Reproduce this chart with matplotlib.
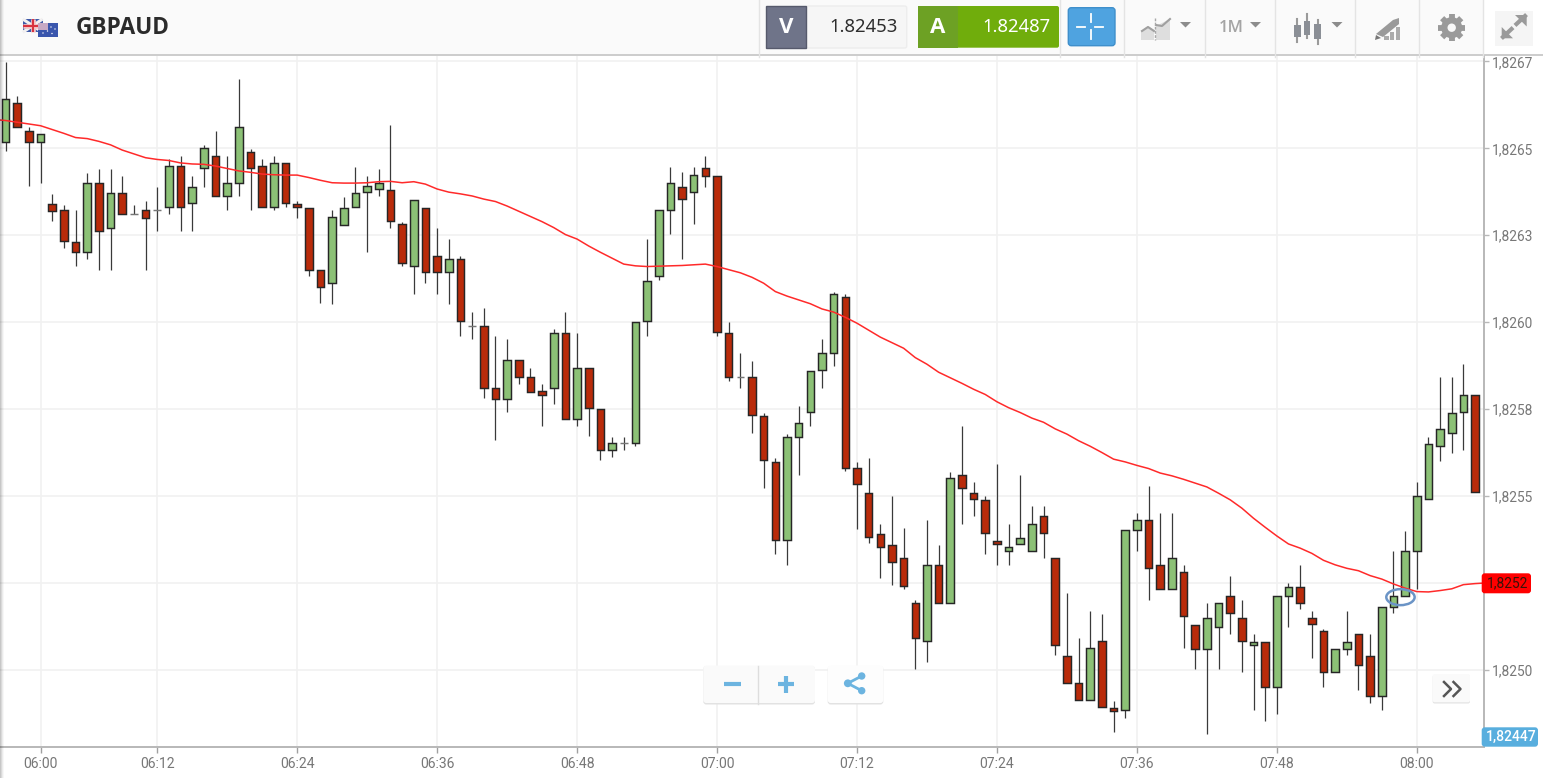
import numpy as np
import matplotlib
matplotlib.use("Agg")
import matplotlib.pyplot as plt
from matplotlib.patches import Rectangle, FancyBboxPatch, Ellipse, Polygon, Circle

# GBPAUD one minute candles, prices
opens = [
    1.826519, 1.826631, 1.826551, 1.826519, 1.826340, 1.826323, 1.826231, 1.826202, 1.826401, 1.826271,
    1.826372, 1.826312, 1.826323, 1.826322, 1.826332, 1.826449, 1.826342, 1.826442, 1.826479, 1.826362,
    1.826401, 1.826490, 1.826449, 1.826332, 1.826459, 1.826340, 1.826329, 1.826151, 1.826113, 1.826280,
    1.826332, 1.826374, 1.826383, 1.826380, 1.826281, 1.826162, 1.826329, 1.826191, 1.826144, 1.826181,
    1.825990, 1.825989, 1.825811, 1.825780, 1.825890, 1.825842, 1.825802, 1.825812, 1.825969, 1.825722,
    1.825869, 1.825750, 1.825633, 1.825652, 1.825653, 1.826003, 1.826133, 1.826322, 1.826390, 1.826374,
    1.826442, 1.826421, 1.825969, 1.825842, 1.825842, 1.825729, 1.825599, 1.825373, 1.825671, 1.825743,
    1.825863, 1.825911, 1.826072, 1.825581, 1.825510, 1.825390, 1.825359, 1.825322, 1.825191, 1.825082,
    1.825301, 1.825191, 1.825561, 1.825510, 1.825489, 1.825370, 1.825342, 1.825362, 1.825342, 1.825442,
    1.825322, 1.825041, 1.824961, 1.824914, 1.825082, 1.824891, 1.824883, 1.825402, 1.825431, 1.825301,
    1.825232, 1.825281, 1.825129, 1.825061, 1.825122, 1.825212, 1.825150, 1.825070, 1.825081, 1.824951,
    1.825211, 1.825239, 1.825150, 1.825112, 1.824993, 1.825061, 1.825102, 1.825041, 1.824924, 1.825181,
    1.825211, 1.825342, 1.825492, 1.825643, 1.825681, 1.825743, 1.825791,
]
closes = [
    1.826641, 1.826562, 1.826519, 1.826541, 1.826321, 1.826234, 1.826202, 1.826401, 1.826262, 1.826372,
    1.826311, 1.826312, 1.826301, 1.826322, 1.826449, 1.826332, 1.826390, 1.826501, 1.826363, 1.826401,
    1.826562, 1.826442, 1.826332, 1.826459, 1.826342, 1.826331, 1.826151, 1.826102, 1.826302, 1.826329,
    1.826371, 1.826391, 1.826401, 1.826291, 1.826170, 1.826350, 1.826144, 1.826144, 1.826181, 1.826004,
    1.825990, 1.825812, 1.825780, 1.825890, 1.825842, 1.825800, 1.825791, 1.825969, 1.825722, 1.825869,
    1.825753, 1.825633, 1.825652, 1.825652, 1.826000, 1.826119, 1.826322, 1.826401, 1.826353, 1.826422,
    1.826421, 1.825972, 1.825842, 1.825842, 1.825732, 1.825603, 1.825373, 1.825671, 1.825711, 1.825860,
    1.825911, 1.826082, 1.825581, 1.825535, 1.825383, 1.825352, 1.825311, 1.825242, 1.825092, 1.825301,
    1.825191, 1.825551, 1.825524, 1.825492, 1.825393, 1.825362, 1.825352, 1.825380, 1.825420, 1.825393,
    1.825071, 1.824962, 1.824914, 1.825062, 1.824894, 1.824882, 1.825401, 1.825431, 1.825294, 1.825232,
    1.825322, 1.825154, 1.825061, 1.825150, 1.825191, 1.825163, 1.825082, 1.825081, 1.824951, 1.825212,
    1.825238, 1.825191, 1.825133, 1.824993, 1.825061, 1.825081, 1.825013, 1.824924, 1.825181, 1.825211,
    1.825342, 1.825500, 1.825650, 1.825692, 1.825740, 1.825791, 1.825512,
]
highs = [
    1.826749, 1.826651, 1.826562, 1.826541, 1.826369, 1.826337, 1.826323, 1.826430, 1.826441, 1.826441,
    1.826421, 1.826338, 1.826349, 1.826390, 1.826470, 1.826478, 1.826421, 1.826510, 1.826551, 1.826478,
    1.826698, 1.826499, 1.826470, 1.826478, 1.826459, 1.826348, 1.826329, 1.826151, 1.826322, 1.826359,
    1.826447, 1.826421, 1.826441, 1.826567, 1.826289, 1.826350, 1.826329, 1.826270, 1.826239, 1.826191,
    1.826030, 1.826040, 1.825961, 1.825951, 1.825890, 1.825869, 1.825821, 1.825980, 1.826030, 1.825968,
    1.825869, 1.825750, 1.825670, 1.825670, 1.826000, 1.826239, 1.826322, 1.826447, 1.826431, 1.826447,
    1.826478, 1.826421, 1.826000, 1.825911, 1.825889, 1.825738, 1.825609, 1.825679, 1.825759, 1.825860,
    1.825951, 1.826088, 1.826080, 1.825598, 1.825608, 1.825419, 1.825499, 1.825409, 1.825201, 1.825430,
    1.825358, 1.825570, 1.825701, 1.825540, 1.825499, 1.825591, 1.825419, 1.825560, 1.825471, 1.825471,
    1.825322, 1.825222, 1.825091, 1.825170, 1.825160, 1.824910, 1.825401, 1.825451, 1.825530, 1.825451,
    1.825451, 1.825301, 1.825129, 1.825191, 1.825191, 1.825270, 1.825201, 1.825102, 1.825081, 1.825212,
    1.825249, 1.825301, 1.825170, 1.825117, 1.825061, 1.825170, 1.825102, 1.825102, 1.825181, 1.825342,
    1.825399, 1.825539, 1.825671, 1.825842, 1.825842, 1.825879, 1.825791,
]
lows = [
    1.826493, 1.826562, 1.826392, 1.826401, 1.826291, 1.826214, 1.826162, 1.826182, 1.826150, 1.826150,
    1.826311, 1.826312, 1.826151, 1.826263, 1.826311, 1.826263, 1.826263, 1.826390, 1.826363, 1.826322,
    1.826363, 1.826322, 1.826332, 1.826322, 1.826332, 1.826301, 1.826133, 1.826055, 1.826052, 1.826280,
    1.826332, 1.826202, 1.826363, 1.826270, 1.826161, 1.826082, 1.826112, 1.826082, 1.826052, 1.825961,
    1.825952, 1.825781, 1.825660, 1.825743, 1.825821, 1.825800, 1.825702, 1.825764, 1.825722, 1.825702,
    1.825672, 1.825603, 1.825612, 1.825633, 1.825643, 1.825961, 1.826122, 1.826254, 1.826181, 1.826281,
    1.826390, 1.825961, 1.825832, 1.825812, 1.825681, 1.825524, 1.825332, 1.825302, 1.825561, 1.825702,
    1.825812, 1.825873, 1.825571, 1.825404, 1.825364, 1.825263, 1.825243, 1.825232, 1.825002, 1.825023,
    1.825191, 1.825191, 1.825420, 1.825442, 1.825332, 1.825302, 1.825301, 1.825362, 1.825342, 1.825323,
    1.825043, 1.824962, 1.824914, 1.824914, 1.824894, 1.824821, 1.824862, 1.825342, 1.825202, 1.825232,
    1.825232, 1.825062, 1.825002, 1.824815, 1.825002, 1.825102, 1.824993, 1.824883, 1.824853, 1.824873,
    1.825122, 1.825174, 1.825034, 1.824951, 1.824993, 1.825043, 1.824942, 1.824904, 1.824883, 1.825163,
    1.825211, 1.825232, 1.825492, 1.825602, 1.825623, 1.825633, 1.825512,
]

# moving average, one value before the first candle and one after the last
moving_avg = [
    1.826583, 1.826580, 1.826575, 1.826570, 1.826565, 1.826554, 1.826543, 1.826531, 1.826528, 1.826520,
    1.826510, 1.826495, 1.826484, 1.826473, 1.826468, 1.826465, 1.826458, 1.826455, 1.826454, 1.826449,
    1.826442, 1.826435, 1.826431, 1.826426, 1.826424, 1.826423, 1.826423, 1.826416, 1.826408, 1.826401,
    1.826400, 1.826400, 1.826401, 1.826404, 1.826405, 1.826401, 1.826404, 1.826397, 1.826383, 1.826374,
    1.826369, 1.826363, 1.826354, 1.826347, 1.826334, 1.826319, 1.826304, 1.826289, 1.826272, 1.826252,
    1.826239, 1.826219, 1.826201, 1.826184, 1.826167, 1.826162, 1.826160, 1.826161, 1.826162, 1.826163,
    1.826165, 1.826167, 1.826160, 1.826151, 1.826142, 1.826129, 1.826112, 1.826088, 1.826075, 1.826064,
    1.826053, 1.826038, 1.826029, 1.826014, 1.825997, 1.825977, 1.825957, 1.825941, 1.825925, 1.825898,
    1.825879, 1.825856, 1.825840, 1.825824, 1.825807, 1.825792, 1.825771, 1.825754, 1.825740, 1.825724,
    1.825712, 1.825693, 1.825678, 1.825659, 1.825643, 1.825625, 1.825606, 1.825598, 1.825588, 1.825579,
    1.825566, 1.825558, 1.825548, 1.825537, 1.825526, 1.825508, 1.825489, 1.825465, 1.825436, 1.825410,
    1.825385, 1.825362, 1.825350, 1.825335, 1.825315, 1.825302, 1.825292, 1.825285, 1.825271, 1.825261,
    1.825247, 1.825235, 1.825225, 1.825224, 1.825228, 1.825233, 1.825245, 1.825248, 1.825250,
]

price_ticks = [1.82500, 1.82525, 1.82550, 1.82575, 1.82600, 1.82625, 1.82650, 1.82675]
price_labels = ["1,8250", "", "1,8255", "1,8258", "1,8260", "1,8263", "1,8265", "1,8267"]

# the feed has two minutes missing after 06:00, so ticks sit on candle numbers
tick_candles = [3, 13, 25, 37, 49, 61, 73, 85, 97, 109, 121]
tick_labels = ["06:00", "06:12", "06:24", "06:36", "06:48", "07:00", "07:12", "07:24", "07:36", "07:48", "08:00"]

last_ma_label = "1,8252"
crosshair_label = "1,82447"
bid_price = "1.82453"
ask_price = "1.82487"

UP_COLOR = "#8cc176"
DOWN_COLOR = "#b92b0a"
AXIS_COLOR = "#b8b8b8"
ICON_COLOR = "#9a9a9a"
BLUE = "#6cb4e0"

fig = plt.figure(figsize=(15.43, 7.78), dpi=100, facecolor="white")
ax = fig.add_axes([0, 1 - 747 / 778, 1483.5 / 1543, (747 - 55.5) / 778])

x = np.arange(len(closes))
o = np.array(opens)
c = np.array(closes)
body_bottom = np.minimum(o, c)
body_height = np.abs(c - o)
colors = [UP_COLOR if b >= a else DOWN_COLOR for a, b in zip(opens, closes)]
edges = ["#777777" if a == b else "#262626" for a, b in zip(opens, closes)]

ax.vlines(x, lows, highs, color="#3a3a3a", linewidth=0.9, zorder=2)
ax.bar(x, body_height, bottom=body_bottom, width=0.65, color=colors, edgecolor=edges, linewidth=1.05, zorder=3)
ax.plot(np.arange(-1, len(closes) + 1), moving_avg, color="#ff2a2a", linewidth=1.1, zorder=4)

# small circle around the signal candle
ax.add_patch(Ellipse((119.6, 1.825209), 2.43, 0.000046, fill=False, edgecolor="#6b94c6", linewidth=1.8, zorder=5))

ax.set_xlim(-0.48, 126.72)
ax.set_ylim(1.824778, 1.826767)
ax.set_xticks(tick_candles)
ax.set_xticklabels(tick_labels)
ax.set_yticks(price_ticks)
ax.set_yticklabels(price_labels)
ax.yaxis.tick_right()
ax.grid(True, color="#f1f1f1", linewidth=1.2, zorder=0)
ax.set_axisbelow(True)
for side in ["top", "left"]:
    ax.spines[side].set_visible(False)
for side in ["right", "bottom"]:
    ax.spines[side].set_color(AXIS_COLOR)
    ax.spines[side].set_linewidth(1.4)
ax.tick_params(axis="x", length=4, width=1, color="#a0a0a0", labelcolor="#777777", labelsize=10.1, pad=3.5)
ax.tick_params(axis="y", length=3.5, width=1, color=AXIS_COLOR, labelcolor="#777777", labelsize=9.9, pad=2.2)
for label in ax.get_xticklabels() + ax.get_yticklabels():
    label.set_fontfamily("Roboto")

# overlay in pixel coordinates for the platform's buttons and header
ui = fig.add_axes([0, 0, 1, 1], zorder=10)
ui.set_xlim(0, 1543)
ui.set_ylim(778, 0)
ui.axis("off")
ui.patch.set_alpha(0)


def box(x0, y0, x1, y1, color, edge="none", radius=0.0, lw=1.0, z=1):
    if radius > 0:
        patch = FancyBboxPatch((x0 + radius, y0 + radius), x1 - x0 - 2 * radius, y1 - y0 - 2 * radius,
                               boxstyle=f"round,pad={radius},rounding_size={radius}",
                               facecolor=color, edgecolor=edge, linewidth=lw, zorder=z)
    else:
        patch = Rectangle((x0, y0), x1 - x0, y1 - y0, facecolor=color, edgecolor=edge, linewidth=lw, zorder=z)
    ui.add_patch(patch)


def triangle(cx, color="#8c8c8c"):
    ui.add_patch(Polygon([(cx - 5.5, 22), (cx + 5.5, 22), (cx, 27.5)], facecolor=color, edgecolor="none", zorder=3))


# header strip
box(0, 0, 1483.5, 55, "#fafafa")
box(1483.5, 0, 1543, 55, "#ffffff")
ui.plot([0, 1543], [55.3, 55.3], color="#c4c4c4", linewidth=1.2, zorder=2)
for sep in [759, 1059.5, 1123.5, 1204.5, 1274.7, 1355.3, 1419.3, 1483.3]:
    ui.plot([sep, sep], [0, 57], color="#e4e4e4", linewidth=1, zorder=2)

# shadow down the left edge
for i, alpha in enumerate([0.22, 0.15, 0.08, 0.03]):
    ui.add_patch(Rectangle((i, 0), 1, 778, facecolor="black", edgecolor="none", alpha=alpha, zorder=2))

# flags
box(22.7, 19, 42.7, 32.3, "#3f5aa8", z=3)
for a, b, col, lw in [((22.7, 19), (42.7, 32.3), "#f2f0f0", 2.2), ((22.7, 32.3), (42.7, 19), "#f2f0f0", 2.2),
                      ((22.7, 25.6), (42.7, 25.6), "#f4c8c8", 3.4), ((32.7, 19), (32.7, 32.3), "#f4c8c8", 3.4),
                      ((22.7, 25.6), (42.7, 25.6), "#d9333f", 1.5), ((32.7, 19), (32.7, 32.3), "#d9333f", 1.5)]:
    ui.plot([a[0], b[0]], [a[1], b[1]], color=col, linewidth=lw, zorder=3, solid_capstyle="butt")
box(38.3, 23.3, 58.3, 36.7, "#3a56ad", z=4)
box(38.3, 23.3, 47.5, 29.5, "#c7a9c4", z=4)
for sx, sy in [(43, 33), (51, 27), (55, 29), (52, 33.5), (47.5, 31)]:
    ui.add_patch(Circle((sx, sy), 0.7, facecolor="white", edgecolor="none", zorder=5))

ui.text(75.5, 27.5, "GBPAUD", family="Open Sans", fontsize=16.3, fontweight="bold", color="#2b2b2b", va="center", ha="left", zorder=3)

# bid and ask boxes
box(806, 6, 906.7, 48, "#f6f6f6", edge="#ededed", radius=2, z=3)
box(766, 6, 806, 48, "#6f7489", edge="#565a6c", z=4)
ui.text(786, 27, "V", family="Open Sans", fontsize=16, fontweight="bold", color="white", ha="center", va="center", zorder=5)
ui.text(898, 26.5, bid_price, family="Noto Sans", fontsize=13.3, color="#2e2e2e", ha="right", va="center", zorder=5)
box(918.3, 6, 1059, 47.7, "#70ad0c", radius=2, z=3)
box(918.3, 6, 958, 47.7, "#6da124", z=4)
ui.text(938, 27.5, "A", family="Open Sans", fontsize=16, fontweight="bold", color="white", ha="center", va="center", zorder=5)
ui.text(1050, 26.5, ask_price, family="Noto Sans", fontsize=13.3, fontweight="medium", color="white", ha="right", va="center", zorder=5)

# crosshair button
box(1068.3, 7.7, 1115, 45.7, "#4fa3e0", edge="#3f8fcb", radius=3, z=3)
for xs, ys in [((1076.7, 1085), (26.7, 26.7)), ((1095, 1103.3), (26.7, 26.7)),
               ((1091, 1091), (14, 21.7)), ((1091, 1091), (30, 39.3))]:
    ui.plot(xs, ys, color="white", linewidth=1.3, zorder=4)

# chart type icon
ui.add_patch(Polygon([(1141, 40), (1141, 31), (1148, 26), (1154, 30), (1154, 40)], facecolor="#dedede", edgecolor="none", zorder=3))
ui.add_patch(Polygon([(1156, 40), (1156, 26), (1170, 19), (1170, 40)], facecolor="#dedede", edgecolor="none", zorder=3))
ui.plot([1142, 1148, 1154], [31, 27, 31], color="#a0a0a0", linewidth=1.5, zorder=4)
ui.plot([1156, 1162, 1170], [25, 26, 19], color="#a0a0a0", linewidth=1.5, zorder=4)
ui.plot([1155, 1155], [18, 40], color="#a8a8a8", linewidth=1, linestyle=(0, (2, 1)), zorder=4)
triangle(1185.5)

# period
ui.text(1231.5, 27.5, "1M", family="Open Sans", fontsize=12, fontweight="semibold", color="#a4a4a4", ha="center", va="center", zorder=3)
triangle(1255.5)

# candle icon
for cx, w0, w1, b0, b1 in [(1297.3, 18.5, 42, 25, 37), (1307, 13.5, 38, 21, 35), (1317.7, 19.5, 43.5, 24, 39)]:
    ui.plot([cx, cx], [w0, w1], color=ICON_COLOR, linewidth=1.5, zorder=3)
    box(cx - 3.3, b0, cx + 3.3, b1, "#8b8f96", z=4)
triangle(1337)

# drawing tool icon
ui.add_patch(Polygon([(1376, 34), (1393, 20), (1399, 18), (1399, 24), (1383, 37)], facecolor=ICON_COLOR, edgecolor="none", zorder=3))
ui.add_patch(Polygon([(1375, 40), (1376, 35), (1381, 38)], facecolor="#777777", edgecolor="none", zorder=3))
for bx, by in [(1384, 36), (1389.5, 32), (1395.5, 27)]:
    box(bx, by, bx + 4.5, 40, "#ababab", z=3)

# settings gear
gear_angles = np.deg2rad(np.arange(0, 360, 45))
for ang in gear_angles:
    ui.plot([1451.7, 1451.7 + 13.5 * np.cos(ang)], [27.7, 27.7 + 13.5 * np.sin(ang)], color=ICON_COLOR, linewidth=4.2, zorder=3, solid_capstyle="butt")
ui.add_patch(Circle((1451.7, 27.7), 10.5, facecolor=ICON_COLOR, edgecolor="none", zorder=3))
ui.add_patch(Circle((1451.7, 27.7), 4.2, facecolor="#f8f8f8", edgecolor="none", zorder=4))

# fullscreen icon, two arrows with a gap between them
box(1495, 10.7, 1533.3, 45.7, "#f5f5f5", z=3)
ui.plot([1503, 1511.5], [37, 29], color=ICON_COLOR, linewidth=3, zorder=4)
ui.plot([1516.5, 1525], [24, 16], color=ICON_COLOR, linewidth=3, zorder=4)
ui.add_patch(Polygon([(1501.7, 38.3), (1501.7, 27), (1513, 38.3)], facecolor=ICON_COLOR, edgecolor="none", zorder=4))
ui.add_patch(Polygon([(1526.7, 15), (1515, 15), (1526.7, 26.5)], facecolor=ICON_COLOR, edgecolor="none", zorder=4))

# zoom buttons
box(703.3, 666, 815, 704.5, "#e2e2e2", radius=3, z=3)
box(703.3, 665.5, 815, 703, "#fafafa", radius=3, z=3)
ui.plot([758.3, 758.3], [666, 704], color="#dddddd", linewidth=1, zorder=4)
ui.plot([724, 740.7], [684, 684], color=BLUE, linewidth=3, zorder=4, solid_capstyle="butt")
ui.plot([777.5, 794], [684, 684], color=BLUE, linewidth=3, zorder=4, solid_capstyle="butt")
ui.plot([785.7, 785.7], [676, 692.5], color=BLUE, linewidth=3, zorder=4, solid_capstyle="butt")

# share button
box(827.7, 666, 883.3, 704.5, "#e2e2e2", radius=3, z=3)
box(827.7, 665.5, 883.3, 703, "#fdfdfd", radius=3, z=3)
for px, py, r in [(861.7, 676, 3.7), (861.7, 690.7, 3.7), (847.8, 683.3, 3.9)]:
    ui.add_patch(Circle((px, py), r, facecolor=BLUE, edgecolor="none", zorder=4))
ui.plot([861.7, 847.8, 861.7], [676, 683.3, 690.7], color=BLUE, linewidth=2, zorder=4)

# scroll to latest button
box(1432.7, 675, 1470, 703.5, "#e2e2e2", radius=2, z=3)
box(1432.7, 674, 1470, 702.3, "#fafafa", radius=2, z=3)
ui.plot([1444, 1451, 1444], [682, 689, 696], color="#555555", linewidth=1.8, zorder=4)
ui.plot([1453.5, 1460.5, 1453.5], [682, 689, 696], color="#555555", linewidth=1.8, zorder=4)

# value badges on the price scale
box(1481.7, 573.3, 1531, 593.3, "#ff0000", radius=3, z=5)
ui.text(1507.5, 583.5, last_ma_label, family="Roboto", fontsize=9.9, color="#3a1208", ha="center", va="center", zorder=6)
box(1481.7, 727.3, 1538, 746.7, "#58aede", radius=3, z=5)
ui.text(1511, 737, crosshair_label, family="Roboto", fontsize=10, fontweight="medium", color="white", ha="center", va="center", zorder=6)

fig.savefig("out.png", dpi=100)
